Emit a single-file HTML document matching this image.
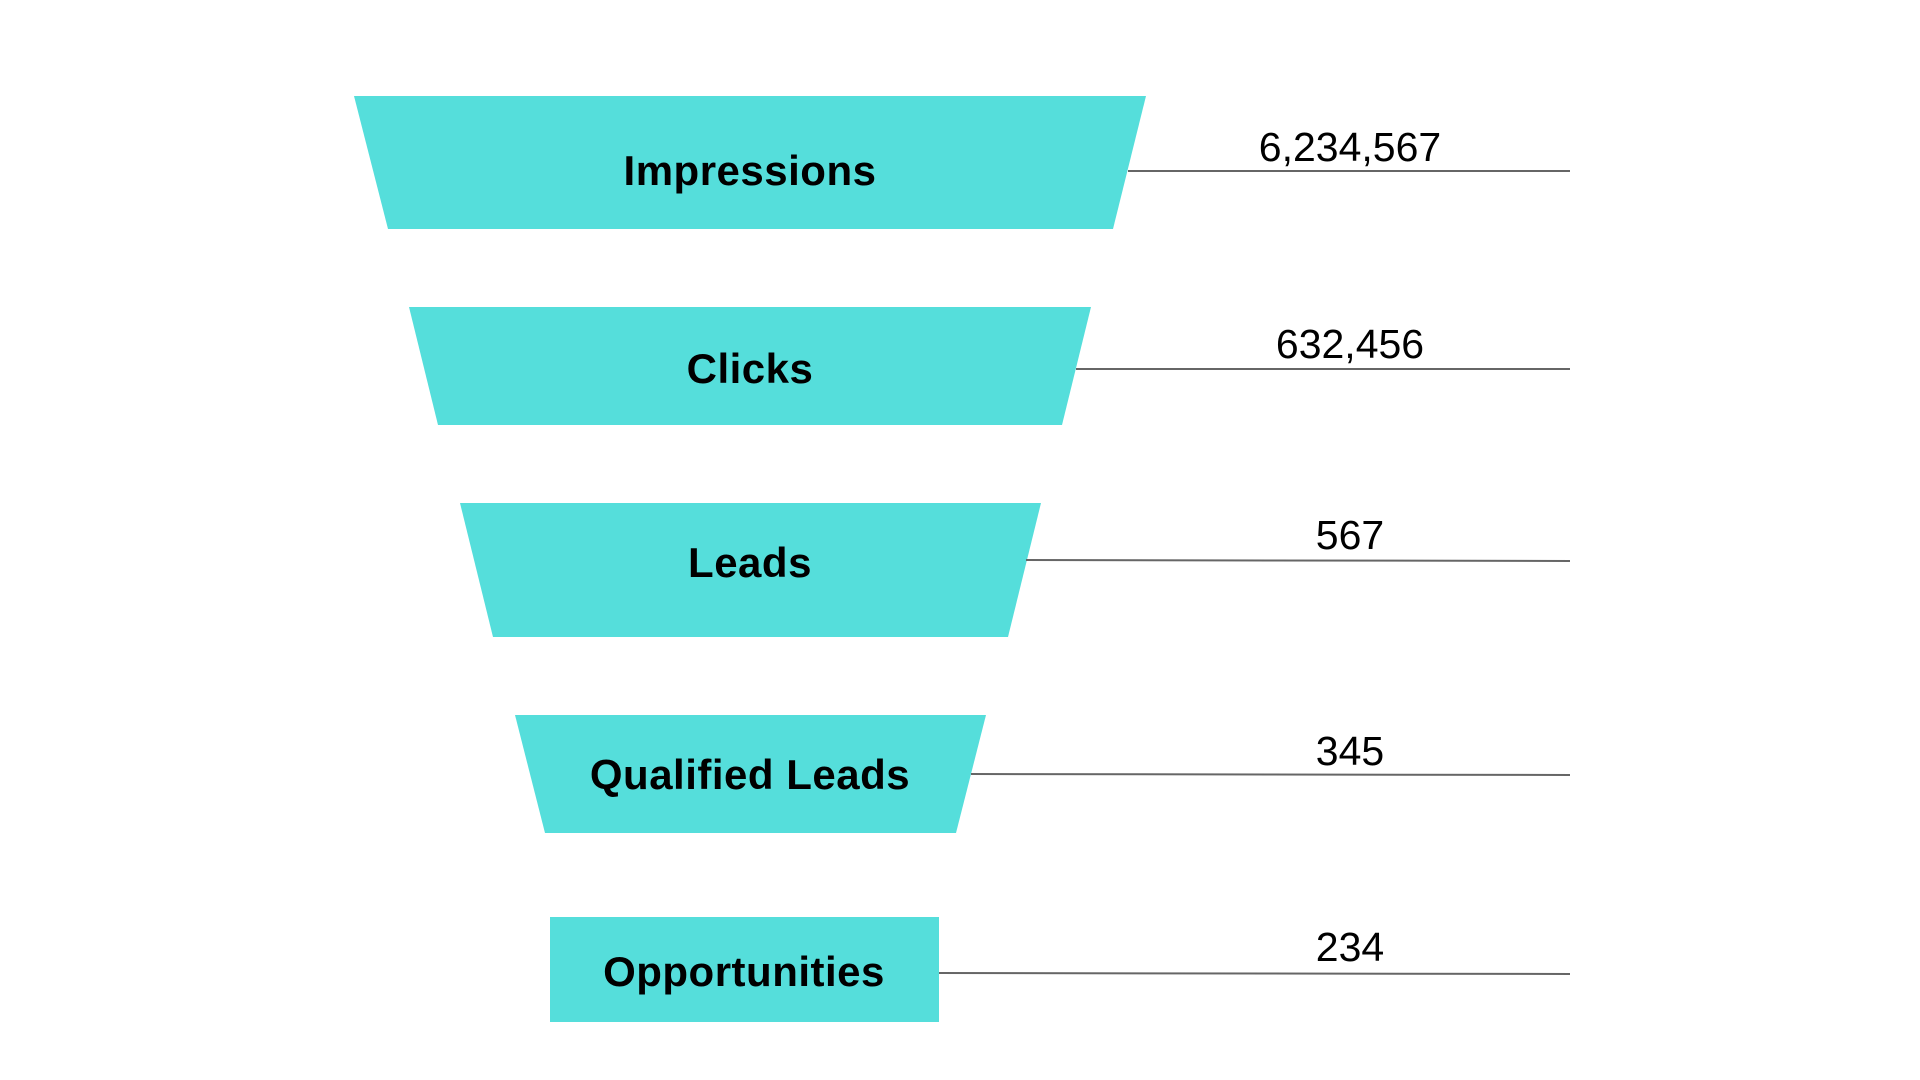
<!DOCTYPE html>
<html><head><style>
html,body{margin:0;padding:0;background:#fff;}
svg{display:block;}
.l{font-family:"Liberation Sans",sans-serif;font-weight:bold;font-size:42px;letter-spacing:0.5px;fill:#000;}
.v{font-family:"Liberation Sans",sans-serif;font-size:41px;fill:#000;}
</style></head><body>
<svg width="1920" height="1080" viewBox="0 0 1920 1080">
<rect width="1920" height="1080" fill="#fff"/>
<g fill="#55DEDB">
<polygon points="354,96 1146,96 1113,229 388,229"/>
<polygon points="409,307 1091,307 1062,425 438,425"/>
<polygon points="460,503 1041,503 1008,637 493,637"/>
<polygon points="515,715 986,715 956,833 545,833"/>
<rect x="550" y="917" width="389" height="105"/>
</g>
<g stroke="#666" stroke-width="2">
<line x1="1128" y1="171" x2="1570" y2="171"/>
<line x1="1076" y1="369" x2="1570" y2="369"/>
<line x1="1026" y1="560" x2="1570" y2="561"/>
<line x1="971" y1="774" x2="1570" y2="775"/>
<line x1="939" y1="973" x2="1570" y2="974"/>
</g>
<g class="l" text-anchor="middle">
<text x="750" y="185">Impressions</text>
<text x="750" y="383">Clicks</text>
<text x="750" y="577">Leads</text>
<text x="750" y="789">Qualified Leads</text>
<text x="744" y="986">Opportunities</text>
</g>
<g class="v" text-anchor="middle">
<text x="1350" y="161">6,234,567</text>
<text x="1350" y="358">632,456</text>
<text x="1350" y="549">567</text>
<text x="1350" y="765">345</text>
<text x="1350" y="961">234</text>
</g>
</svg>
</body></html>
